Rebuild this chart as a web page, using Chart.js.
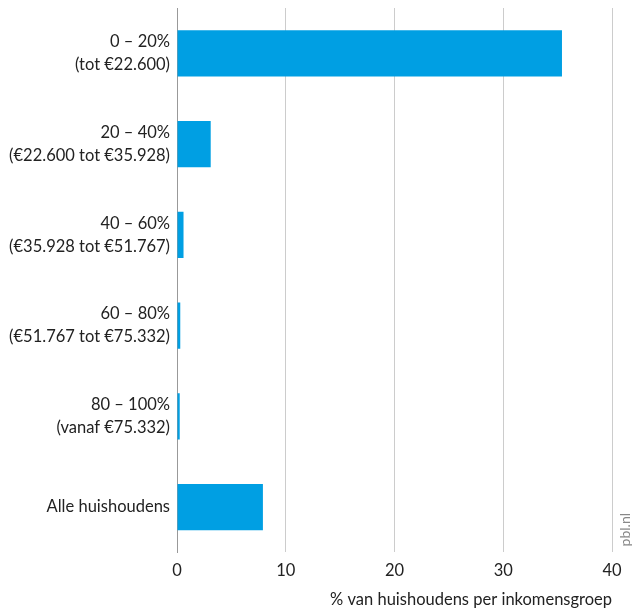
<!DOCTYPE html>
<html lang="nl">
<head>
  <meta charset="UTF-8">
  <title>Huishoudens per inkomensgroep</title>
  <script src="https://cdn.jsdelivr.net/npm/chart.js"></script>
  <style>
    body {
      margin: 0;
      background: #ffffff;
    }
    #chart {
      display: block;
    }
  </style>
</head>
<body>
  <canvas id="chart" width="632" height="612"></canvas>

  <script>
    // Data
    const categories = [
      ['0 – 20%', '(tot €22.600)'],
      ['20 – 40%', '(€22.600 tot €35.928)'],
      ['40 – 60%', '(€35.928 tot €51.767)'],
      ['60 – 80%', '(€51.767 tot €75.332)'],
      ['80 – 100%', '(vanaf €75.332)'],
      'Alle huishoudens'
    ];
    const values = [35.4, 3.1, 0.6, 0.3, 0.25, 7.9];
    const xTicks = [0, 10, 20, 30, 40];
    const xTitle = '% van huishoudens per inkomensgroep';
    const sourceText = 'pbl.nl';

    const fontFamily = 'Lato, "Open Sans", sans-serif';

    // Rotated source label at the bottom right
    const sourcePlugin = {
      id: 'sourceLabel',
      afterDraw: (chart) => {
        const { ctx, chartArea } = chart;
        ctx.save();
        ctx.translate(chartArea.right + 13, chartArea.bottom - 6);
        ctx.rotate(-Math.PI / 2);
        ctx.fillStyle = '#888888';
        ctx.font = '14px ' + fontFamily;
        ctx.textAlign = 'left';
        ctx.textBaseline = 'middle';
        ctx.fillText(sourceText, 0, 0);
        ctx.restore();
      }
    };

    const ctx = document.getElementById('chart').getContext('2d');
    new Chart(ctx, {
      type: 'bar',
      data: {
        labels: categories,
        datasets: [{
          data: values,
          backgroundColor: '#009fe3',
          borderWidth: 0,
          barPercentage: 0.51,
          categoryPercentage: 1.0
        }]
      },
      options: {
        indexAxis: 'y',
        responsive: false,
        animation: false,
        layout: {
          padding: { top: 8, right: 20, bottom: 0, left: 0 }
        },
        plugins: {
          legend: { display: false },
          tooltip: { enabled: false }
        },
        scales: {
          x: {
            min: 0,
            max: 40,
            afterBuildTicks: (scale) => {
              scale.ticks = xTicks.map(v => ({ value: v }));
            },
            grid: {
              color: (c) => c.tick && c.tick.value === 0 ? '#999999' : '#cccccc',
              lineWidth: 1,
              drawTicks: false
            },
            border: { display: false },
            ticks: {
              color: '#222222',
              padding: 8,
              font: { family: fontFamily, size: 16.5 }
            },
            title: {
              display: true,
              text: xTitle,
              align: 'end',
              color: '#222222',
              padding: { top: 2, bottom: 2 },
              font: { family: fontFamily, size: 16.5 }
            }
          },
          y: {
            afterFit: (scale) => {
              scale.width = 177;
              scale.paddingTop = 0;
              scale.paddingBottom = 0;
            },
            grid: { display: false, drawTicks: false },
            border: { display: true, color: '#999999', width: 1 },
            ticks: {
              color: '#222222',
              padding: 7,
              font: { family: fontFamily, size: 16.5, lineHeight: 1.4 }
            }
          }
        }
      },
      plugins: [sourcePlugin]
    });
  </script>
</body>
</html>
